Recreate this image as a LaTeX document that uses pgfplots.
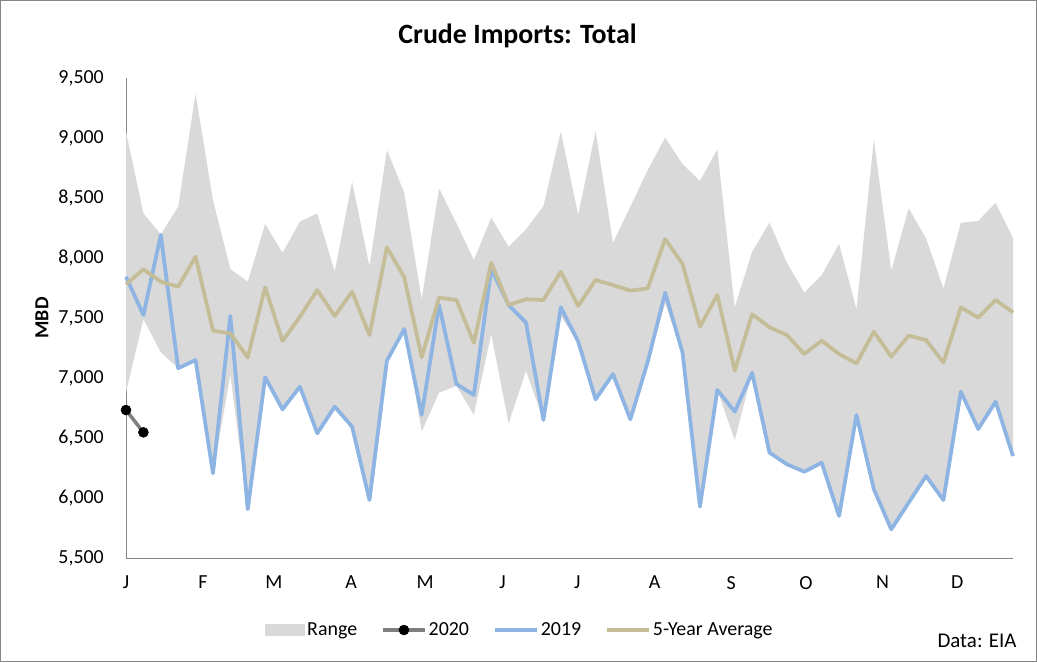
\documentclass[border=0pt]{standalone}
\usepackage{fontspec}
\setmainfont{Carlito}
\usepackage{pgfplots}
\pgfplotsset{compat=1.18}
\usepgfplotslibrary{fillbetween}
\definecolor{rangegray}{HTML}{D9D9D9}
\definecolor{blue19}{HTML}{8DB4E2}
\definecolor{tan5}{HTML}{C4BD97}
\definecolor{gray20}{HTML}{7F7F7F}
\definecolor{axisgray}{HTML}{868686}

\pgfplotstableread{
x upper lower y2019 avg
0 9053 6880 7844 7781
1 8372 7490 7525 7906
2 8197 7215 8192 7803
3 8428 7081 7081 7761
4 9367 7150 7150 8011
5 8483 6206 6206 7394
6 7908 7025 7517 7372
7 7803 5906 5906 7172
8 8283 7006 7006 7756
9 8044 6739 6739 7308
10 8303 6928 6928 7511
11 8372 6539 6539 7733
12 7886 6761 6761 7517
13 8636 6594 6594 7719
14 7928 5983 5983 7358
15 8900 7144 7144 8089
16 8544 7408 7408 7839
17 7656 6553 6692 7172
18 8581 6878 7608 7669
19 8289 6935 6950 7650
20 7983 6692 6858 7294
21 8336 7367 7906 7961
22 8094 6622 7608 7608
23 8239 7058 7461 7656
24 8433 6650 6650 7650
25 9053 7511 7589 7886
26 8358 7303 7303 7600
27 9058 6822 6822 7817
28 8128 7033 7033 7775
29 8428 6656 6656 7728
30 8733 7136 7136 7747
31 9003 7620 7711 8158
32 8783 7211 7211 7950
33 8642 5928 5928 7428
34 8906 6900 6900 7692
35 7589 6483 6719 7061
36 8053 7044 7044 7531
37 8294 6378 6378 7422
38 7961 6281 6281 7358
39 7711 6219 6219 7200
40 7858 6294 6294 7311
41 8117 5850 5850 7200
42 7572 6692 6692 7122
43 8989 6072 6072 7386
44 7894 5739 5739 7178
45 8414 5961 5961 7353
46 8164 6183 6183 7317
47 7747 5983 5983 7128
48 8294 6886 6886 7589
49 8308 6575 6575 7503
50 8461 6803 6803 7650
51 8164 6350 6350 7547
}\datatable

\pgfplotstableread{
x y2020
0 6733
1 6547
}\datatwenty

\begin{document}
\begin{tikzpicture}
\begin{axis}[name=ax, scale only axis, width=887bp, height=480bp,
  xmin=0, xmax=51, ymin=5500, ymax=9500,
  axis lines=left, axis line style={-, axisgray, line width=1bp},
  major tick length=0pt,
  xtick={0,4.43,8.5,12.95,17.2,21.65,25.95,30.4,34.8,39.1,43.5,47.8},
  xticklabels={J,F,M,A,M,J,J,A,S,O,N,D},
  ytick={5500,6000,...,9500},
  /pgf/number format/1000 sep={,},
  /pgf/number format/assume math mode=true,
  yticklabel style={font=\fontsize{20}{24}\selectfont, anchor=east, inner sep=0pt, xshift=-22bp},
  xticklabel style={font=\fontsize{20}{24}\selectfont, anchor=north, inner sep=0pt, yshift=-18bp},
  ylabel={MBD},
  every axis y label/.style={at={(axis description cs:-0.0947,0.5)}, rotate=90, anchor=center, font=\bfseries\fontsize{20}{24}\selectfont},
  clip=false,
  legend columns=4,
  legend style={at={(axis description cs:0.444,-0.15)}, anchor=center, draw=none, fill=none,
    font=\fontsize{20}{24}\selectfont,
    /tikz/every even column/.append style={column sep=22bp}},
  legend image code/.code={\draw[mark repeat=2,mark phase=2,#1] plot coordinates {(0bp,0bp) (21bp,0bp) (42bp,0bp)};},
]
\addplot[name path=upper, draw=none, forget plot] table[x=x, y=upper] {\datatable};
\addplot[name path=lower, draw=none, forget plot] table[x=x, y=lower] {\datatable};
\addplot[fill=rangegray, draw=none, legend image code/.code={\fill[rangegray] (0bp,-6bp) rectangle (40bp,6bp);}] fill between[of=upper and lower];
\addlegendentry{Range}
\addplot[gray20, line width=3.5bp, mark=*, mark size=5bp, mark options={black, fill=black, line width=0.5bp}] table[x=x, y=y2020] {\datatwenty};
\addlegendentry{2020}
\addplot[blue19, line width=3.75bp, line join=round] table[x=x, y=y2019] {\datatable};
\addlegendentry{2019}
\addplot[tan5, line width=3.75bp, line join=round] table[x=x, y=avg] {\datatable};
\addlegendentry{5-Year Average}
\end{axis}
\node[font=\bfseries\fontsize{28}{34}\selectfont, anchor=base] at ([shift={(-52bp,34bp)}]ax.north) {Crude Imports: Total};
\node[font=\fontsize{21}{25}\selectfont, anchor=base east] at ([shift={(7bp,-89bp)}]ax.south east) {Data: EIA};
\draw[axisgray, line width=1bp] ([shift={(-125.5bp,-103.5bp)}]ax.south west) rectangle ([shift={(23.5bp,77.5bp)}]ax.north east);
\pgfresetboundingbox
\path[use as bounding box] ([shift={(-126bp,-104bp)}]ax.south west) rectangle ([shift={(24bp,78bp)}]ax.north east);
\end{tikzpicture}
\end{document}
